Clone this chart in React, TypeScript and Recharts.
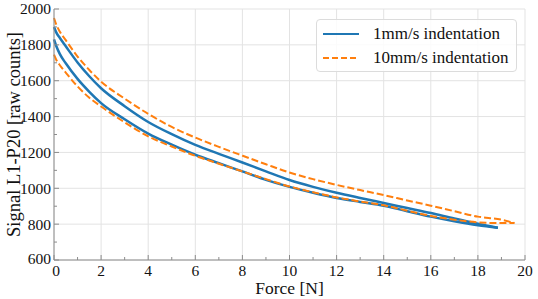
import { CartesianGrid, Legend, Line, LineChart, XAxis, YAxis } from "recharts"

// force samples for the loading/unloading branches
const force = [0, 0.1, 0.25, 0.5, 1, 1.5, 2, 3, 4, 5, 6, 7, 8, 9, 10, 11, 12, 13, 14, 15, 16, 17, 18]

const blueUpper = [1900, 1868, 1838, 1792, 1702, 1625, 1558, 1458, 1370, 1302, 1242, 1192, 1144, 1094, 1046, 1008, 975, 946, 918, 890, 862, 831, 802]
const blueLower = [1830, 1792, 1748, 1697, 1610, 1538, 1475, 1385, 1305, 1243, 1187, 1140, 1094, 1047, 1008, 975, 946, 924, 903, 872, 842, 816, 794]
const blueEnd = { x: 18.85, y: 780 }

const orangeForce = [...force, 19]
const orangeUpper = [1950, 1912, 1873, 1826, 1735, 1660, 1595, 1500, 1415, 1342, 1283, 1231, 1182, 1134, 1088, 1051, 1019, 990, 962, 932, 903, 872, 842, 825]
const orangeLower = [1745, 1716, 1686, 1645, 1568, 1505, 1456, 1368, 1290, 1233, 1181, 1137, 1094, 1051, 1010, 978, 949, 926, 905, 875, 846, 825, 810, 806]
const orangeEnd = { x: 19.55, y: 806 }

const xMajor = [0, 2, 4, 6, 8, 10, 12, 14, 16, 18, 20]
const xAll = Array.from({ length: 21 }, (_, i) => i)
const yMajor = [600, 800, 1000, 1200, 1400, 1600, 1800, 2000]
const yAll = Array.from({ length: 15 }, (_, i) => 600 + i * 100)

const legendItems = [
  { name: "1mm/s indentation", color: "#1f77b4", dash: undefined },
  { name: "10mm/s indentation", color: "#ff7f0e", dash: "6 3" },
]

function branch(xs: number[], ys: number[], end: { x: number; y: number }) {
  return [...xs.map((x, i) => ({ x, y: ys[i] })), end]
}

const blueUp = branch(force, blueUpper, blueEnd)
const blueDown = branch(force, blueLower, blueEnd)
const orangeUp = branch(orangeForce, orangeUpper, orangeEnd)
const orangeDown = branch(orangeForce, orangeLower, orangeEnd)

const font = "'Liberation Serif', 'Times New Roman', serif"
const spine = "#8c8c8c"

function XTick({ x, y, payload }: any) {
  const major = payload.value % 2 === 0
  return (
    <g>
      <line x1={x} x2={x} y1={y} y2={y - (major ? 5 : 3)} stroke={spine} />
      {major && (
        <text x={x + (payload.value === 0 ? 2 : 0)} y={y + 16} textAnchor="middle" fontSize={15.5} fontFamily={font} fill="#111">
          {payload.value}
        </text>
      )}
    </g>
  )
}

function YTick({ x, y, payload }: any) {
  const major = payload.value % 200 === 0
  return (
    <g>
      <line x1={x} x2={x + (major ? 5 : 3)} y1={y} y2={y} stroke={spine} />
      {major && (
        <text x={x - 3} y={y - (payload.value === 600 ? 1 : 0)} dy="0.35em" textAnchor="end" fontSize={15.5} fontFamily={font} fill="#111">
          {payload.value}
        </text>
      )}
    </g>
  )
}

function LegendBox() {
  return (
    <div
      style={{
        width: 201,
        height: 53,
        boxSizing: "border-box",
        border: "1px solid #dcdcdc",
        borderRadius: 4,
        background: "rgba(255,255,255,0.85)",
        fontFamily: font,
        fontSize: 17,
        color: "#111",
        paddingTop: 2,
      }}
    >
      {legendItems.map((it) => (
        <div key={it.name} style={{ display: "flex", alignItems: "center", height: 24 }}>
          <svg width={56} height={10} style={{ flex: "none" }}>
            <line x1={6} x2={42} y1={5} y2={5} stroke={it.color} strokeWidth={2} strokeDasharray={it.dash} />
          </svg>
          <span>{it.name}</span>
        </div>
      ))}
    </div>
  )
}

export default function App() {
  const blue = { dataKey: "y", type: "monotone" as const, stroke: "#1f77b4", strokeWidth: 2.5, dot: false, isAnimationActive: false }
  const orange = { dataKey: "y", type: "monotone" as const, stroke: "#ff7f0e", strokeWidth: 2, strokeDasharray: "7 3", dot: false, isAnimationActive: false }
  return (
    <div style={{ width: 538, height: 299, background: "#fff" }}>
      <style>{"body{margin:0}"}</style>
      <LineChart width={538} height={299} margin={{ top: 9, right: 13, bottom: 0, left: 0 }}>
        <CartesianGrid stroke="#e3e3e3" horizontalValues={yMajor} verticalValues={xMajor} />
        <XAxis
          dataKey="x"
          type="number"
          domain={[0, 20]}
          ticks={xAll}
          interval={0}
          height={39}
          tickSize={0}
          tickMargin={0}
          tickLine={false}
          tick={<XTick />}
          axisLine={{ stroke: spine }}
          label={{ value: "Force [N]", position: "insideBottom", offset: 5, fontSize: 17.5, fontFamily: font, fill: "#111" }}
        />
        <XAxis xAxisId="top" orientation="top" type="number" domain={[0, 20]} height={0} tick={false} tickLine={false} axisLine={{ stroke: spine }} />
        <YAxis
          type="number"
          domain={[600, 2000]}
          ticks={yAll}
          interval={0}
          width={54}
          tickSize={0}
          tickMargin={0}
          tickLine={false}
          tick={<YTick />}
          axisLine={{ stroke: spine }}
          label={{
            value: "Signal L1-P20 [raw counts]",
            angle: -90,
            position: "insideLeft",
            offset: 13,
            style: { textAnchor: "middle" },
            fontSize: 18.5,
            fontFamily: font,
            fill: "#111",
          }}
        />
        <YAxis yAxisId="right" orientation="right" type="number" domain={[600, 2000]} width={0} tick={false} tickLine={false} axisLine={{ stroke: spine }} />
        <Legend
          layout="vertical"
          align="center"
          verticalAlign="middle"
          content={<LegendBox />}
          wrapperStyle={{ top: 19, left: 316, width: 201 }}
        />
        <Line data={blueUp} {...blue} />
        <Line data={blueDown} {...blue} />
        <Line data={orangeUp} {...orange} />
        <Line data={orangeDown} {...orange} />
      </LineChart>
    </div>
  )
}
